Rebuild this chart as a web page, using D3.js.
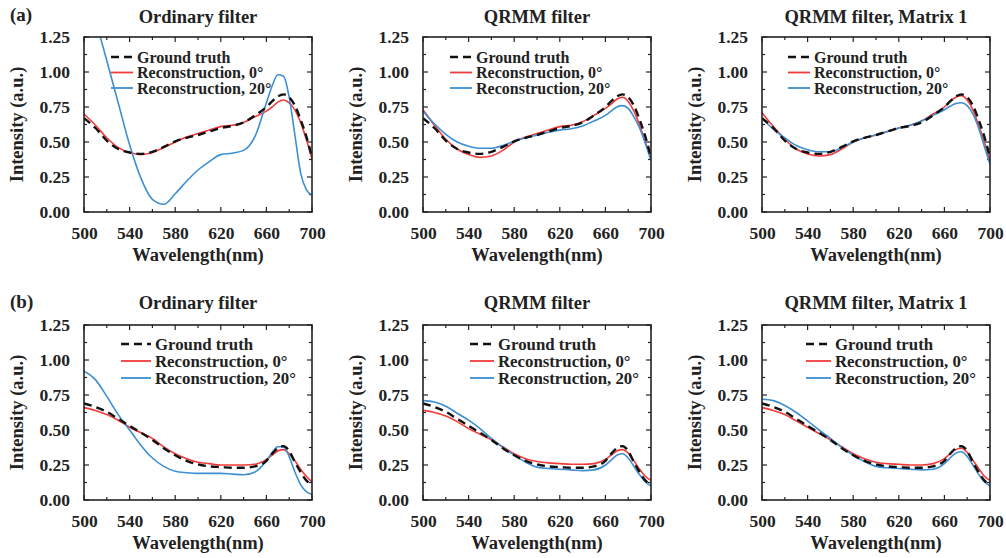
<!DOCTYPE html>
<html><head><meta charset="utf-8">
<script src="https://cdn.jsdelivr.net/npm/d3@7"></script>
<style>
html,body{margin:0;padding:0;background:#fff;}
text{font-family:"Liberation Serif","Times New Roman",serif;font-weight:bold;fill:#222;}
</style></head>
<body><svg id="chart" width="1006" height="558"></svg>
<script>
// ---------- data ----------
const wavelength = [500,510,520,530,540,550,560,570,580,590,600,610,620,630,640,650,660,665,670,675,680,685,690,695,700];
const xTicks = [500,540,580,620,660,700];
const yTicks = [0,0.25,0.5,0.75,1.0,1.25];
const seriesNames = ["Ground truth","Reconstruction, 0\u00b0","Reconstruction, 20\u00b0"];
const panelTitles = ["Ordinary filter","QRMM filter","QRMM filter, Matrix 1"];
const rowLabels = ["(a)","(b)"];

// row (a)
const truthA   = [.67,.60,.51,.45,.425,.415,.43,.465,.505,.53,.55,.575,.60,.615,.64,.69,.75,.79,.825,.84,.82,.76,.66,.54,.39];
const ordRedA  = [.70,.62,.53,.46,.425,.41,.425,.46,.50,.535,.56,.585,.61,.62,.64,.68,.72,.75,.785,.80,.78,.73,.64,.52,.38];
const ordBlueA = [1.68,1.38,1.08,.78,.48,.24,.09,.055,.13,.22,.30,.36,.41,.42,.44,.54,.78,.90,.98,.97,.82,.55,.28,.16,.12];
const qrRedA   = [.73,.62,.52,.45,.41,.39,.40,.44,.50,.535,.56,.585,.61,.62,.645,.69,.74,.77,.805,.82,.79,.72,.62,.50,.38];
const qrBlueA  = [.72,.63,.555,.50,.47,.455,.455,.475,.505,.53,.55,.57,.585,.595,.615,.65,.69,.72,.75,.76,.74,.68,.60,.49,.37];
const m1RedA   = [.71,.61,.52,.45,.415,.40,.41,.45,.50,.53,.55,.575,.60,.62,.65,.70,.75,.79,.82,.83,.80,.73,.62,.50,.36];
const m1BlueA  = [.67,.59,.53,.475,.445,.43,.43,.46,.50,.53,.55,.575,.60,.62,.65,.69,.73,.755,.775,.78,.76,.70,.60,.47,.34];
// row (b)
const truthB   = [.69,.665,.63,.58,.53,.48,.43,.37,.32,.28,.255,.24,.235,.23,.23,.24,.28,.33,.37,.385,.35,.27,.20,.14,.11];
const ordRedB  = [.66,.64,.61,.57,.52,.48,.44,.38,.33,.295,.27,.26,.25,.25,.25,.255,.29,.32,.35,.36,.33,.28,.22,.17,.13];
const ordBlueB = [.92,.86,.74,.61,.50,.39,.30,.24,.205,.195,.19,.19,.19,.185,.18,.20,.28,.34,.38,.38,.31,.20,.11,.06,.04];
const qrRedB   = [.64,.625,.60,.56,.51,.47,.43,.38,.33,.295,.275,.265,.26,.255,.255,.26,.29,.32,.35,.36,.335,.28,.22,.17,.14];
const qrBlueB  = [.71,.70,.67,.62,.57,.51,.44,.375,.32,.27,.235,.225,.22,.215,.21,.215,.25,.285,.32,.33,.30,.24,.18,.13,.10];
const m1RedB   = [.66,.64,.61,.565,.52,.475,.43,.38,.33,.295,.27,.26,.255,.25,.25,.26,.295,.33,.36,.37,.34,.285,.225,.17,.14];
const m1BlueB  = [.72,.71,.675,.625,.565,.50,.44,.375,.32,.275,.24,.23,.225,.22,.215,.22,.26,.30,.335,.345,.31,.25,.185,.13,.10];

const panelSeries = [
  [[truthA,ordRedA,ordBlueA],[truthA,qrRedA,qrBlueA],[truthA,m1RedA,m1BlueA]],
  [[truthB,ordRedB,ordBlueB],[truthB,qrRedB,qrBlueB],[truthB,m1RedB,m1BlueB]]
];

// ---------- layout ----------
const colLeft = [84,423,762];
const plotW = 228, plotH = 175;
const rowTop = [37,325];
const styles = [
  {stroke:"#111", width:2.4, dash:"8,5"},
  {stroke:"#f23b3b", width:1.6, dash:null},
  {stroke:"#3c8fd2", width:1.6, dash:null}
];
const legendCfg = [
  {dx:[27,27,26], len:[22,22,22], y0:20, dy:15.5, fs:16},
  {dx:[37,47,44], len:[30,24,25], y0:19, dy:17, fs:16.8}
];

const svg = d3.select("#chart");
const defs = svg.append("defs");

for (let r = 0; r < 2; r++) {
  svg.append("text").attr("x",10).attr("y", r===0 ? 21 : 308)
     .attr("font-size",19).text(rowLabels[r]);
  for (let c = 0; c < 3; c++) {
    const left = colLeft[c], top = rowTop[r];
    const x = d3.scaleLinear().domain([500,700]).range([0,plotW]);
    const y = d3.scaleLinear().domain([0,1.25]).range([plotH,0]);
    const g = svg.append("g").attr("transform",`translate(${left},${top})`);
    const cid = `clip${r}${c}`;
    defs.append("clipPath").attr("id",cid).append("rect").attr("width",plotW).attr("height",plotH);

    // ticks (inward, mirrored)
    const minorX = d3.range(500,701,20), minorY = d3.range(0,1.2501,0.125);
    const tickG = g.append("g").attr("stroke","#222").attr("stroke-width",1.2);
    minorX.forEach(v=>{
      const L = xTicks.includes(v) ? 5 : 3;
      tickG.append("line").attr("x1",x(v)).attr("x2",x(v)).attr("y1",plotH).attr("y2",plotH-L);
      tickG.append("line").attr("x1",x(v)).attr("x2",x(v)).attr("y1",0).attr("y2",L);
    });
    minorY.forEach(v=>{
      const L = (Math.abs(v*4-Math.round(v*4))<1e-6) ? 5 : 3;
      tickG.append("line").attr("y1",y(v)).attr("y2",y(v)).attr("x1",0).attr("x2",L);
      tickG.append("line").attr("y1",y(v)).attr("y2",y(v)).attr("x1",plotW).attr("x2",plotW-L);
    });

    // tick labels via d3 axes
    const xa = g.append("g").attr("transform",`translate(0,${plotH})`)
      .call(d3.axisBottom(x).tickValues(xTicks).tickSize(0).tickPadding(15).tickFormat(d3.format("d")));
    xa.select(".domain").remove();
    xa.selectAll("text").attr("font-size",17.5).attr("font-family",null).attr("fill","#222").attr("font-weight","bold");
    const ya = g.append("g")
      .call(d3.axisLeft(y).tickValues(yTicks).tickSize(0).tickPadding(14).tickFormat(d3.format(".2f")));
    ya.select(".domain").remove();
    ya.selectAll("text").attr("font-size",17.5).attr("font-family",null).attr("fill","#222").attr("font-weight","bold");

    // lines
    const line = d3.line().x((d,i)=>x(wavelength[i])).y(d=>y(d)).curve(d3.curveMonotoneX);
    const lg = g.append("g").attr("clip-path",`url(#${cid})`);
    [1,2,0].forEach(k=>{
      const st = styles[k];
      lg.append("path").datum(panelSeries[r][c][k]).attr("d",line)
        .attr("fill","none").attr("stroke",st.stroke).attr("stroke-width",st.width)
        .attr("stroke-dasharray",st.dash);
    });

    // frame
    g.append("rect").attr("width",plotW).attr("height",plotH).attr("fill","none")
     .attr("stroke","#222").attr("stroke-width",1.6);

    // legend
    const lc = legendCfg[r];
    seriesNames.forEach((name,k)=>{
      const st = styles[k];
      const ly = lc.y0 + k*lc.dy;
      const x0 = lc.dx[c], x1 = x0 + lc.len[c];
      g.append("line").attr("x1",x0).attr("x2",x1).attr("y1",ly).attr("y2",ly)
        .attr("stroke",st.stroke).attr("stroke-width",k===0?2.4:1.8).attr("stroke-dasharray",st.dash);
      g.append("text").attr("x",x1+4).attr("y",ly+5.5).attr("font-size",lc.fs).text(name);
    });

    // titles and axis labels
    svg.append("text").attr("x",left+plotW/2).attr("y", r===0 ? 23 : 309)
      .attr("text-anchor","middle").attr("font-size",18.5).text(panelTitles[c]);
    svg.append("text").attr("x",left+plotW/2).attr("y",top+plotH+49)
      .attr("text-anchor","middle").attr("font-size",18.5).text("Wavelength(nm)");
    svg.append("text").attr("transform",`translate(${left-61},${top+plotH/2}) rotate(-90)`)
      .attr("text-anchor","middle").attr("font-size",18.5).text("Intensity (a.u.)");
  }
}
</script></body></html>
